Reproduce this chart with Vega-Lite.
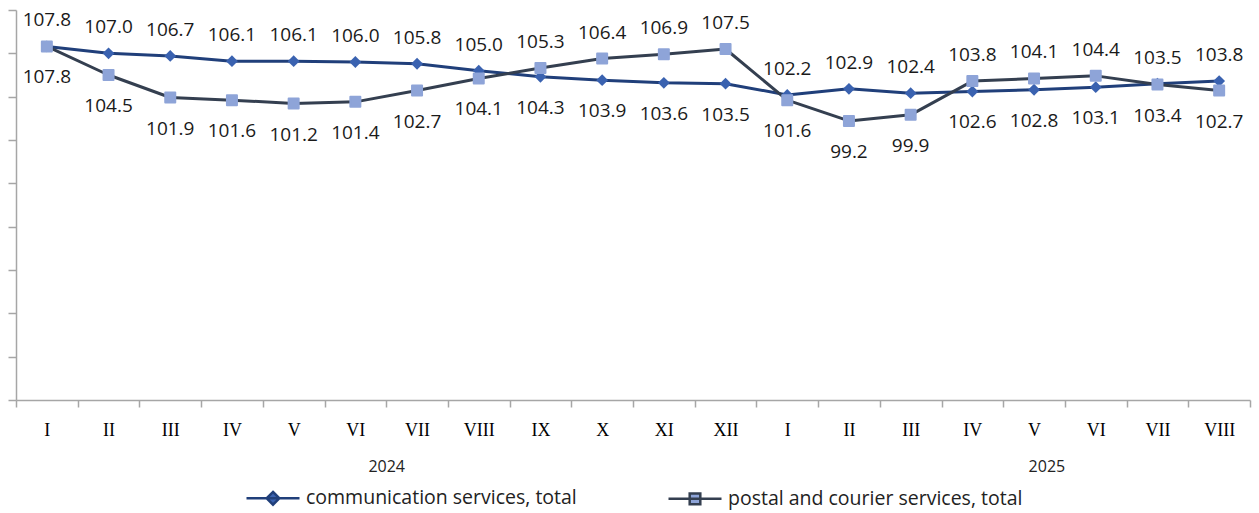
{
  "$schema": "https://vega.github.io/schema/vega-lite/v6.json",
  "width": 1234,
  "height": 390,
  "autosize": {"type": "none"},
  "padding": {"left": 16, "top": 10, "right": 9, "bottom": 113},
  "background": "white",
  "config": {"view": {"stroke": null}, "font": "Open Sans"},
  "data": {
    "values": [
      {"period": "2024-I", "n": 1, "series": "communication services, total", "value": 107.8},
      {"period": "2024-II", "n": 2, "series": "communication services, total", "value": 107.0},
      {"period": "2024-III", "n": 3, "series": "communication services, total", "value": 106.7},
      {"period": "2024-IV", "n": 4, "series": "communication services, total", "value": 106.1},
      {"period": "2024-V", "n": 5, "series": "communication services, total", "value": 106.1},
      {"period": "2024-VI", "n": 6, "series": "communication services, total", "value": 106.0},
      {"period": "2024-VII", "n": 7, "series": "communication services, total", "value": 105.8},
      {"period": "2024-VIII", "n": 8, "series": "communication services, total", "value": 105.0},
      {"period": "2024-IX", "n": 9, "series": "communication services, total", "value": 104.3},
      {"period": "2024-X", "n": 10, "series": "communication services, total", "value": 103.9},
      {"period": "2024-XI", "n": 11, "series": "communication services, total", "value": 103.6},
      {"period": "2024-XII", "n": 12, "series": "communication services, total", "value": 103.5},
      {"period": "2025-I", "n": 13, "series": "communication services, total", "value": 102.2},
      {"period": "2025-II", "n": 14, "series": "communication services, total", "value": 102.9},
      {"period": "2025-III", "n": 15, "series": "communication services, total", "value": 102.4},
      {"period": "2025-IV", "n": 16, "series": "communication services, total", "value": 102.6},
      {"period": "2025-V", "n": 17, "series": "communication services, total", "value": 102.8},
      {"period": "2025-VI", "n": 18, "series": "communication services, total", "value": 103.1},
      {"period": "2025-VII", "n": 19, "series": "communication services, total", "value": 103.5},
      {"period": "2025-VIII", "n": 20, "series": "communication services, total", "value": 103.8},
      {"period": "2024-I", "n": 1, "series": "postal and courier services, total", "value": 107.8},
      {"period": "2024-II", "n": 2, "series": "postal and courier services, total", "value": 104.5},
      {"period": "2024-III", "n": 3, "series": "postal and courier services, total", "value": 101.9},
      {"period": "2024-IV", "n": 4, "series": "postal and courier services, total", "value": 101.6},
      {"period": "2024-V", "n": 5, "series": "postal and courier services, total", "value": 101.2},
      {"period": "2024-VI", "n": 6, "series": "postal and courier services, total", "value": 101.4},
      {"period": "2024-VII", "n": 7, "series": "postal and courier services, total", "value": 102.7},
      {"period": "2024-VIII", "n": 8, "series": "postal and courier services, total", "value": 104.1},
      {"period": "2024-IX", "n": 9, "series": "postal and courier services, total", "value": 105.3},
      {"period": "2024-X", "n": 10, "series": "postal and courier services, total", "value": 106.4},
      {"period": "2024-XI", "n": 11, "series": "postal and courier services, total", "value": 106.9},
      {"period": "2024-XII", "n": 12, "series": "postal and courier services, total", "value": 107.5},
      {"period": "2025-I", "n": 13, "series": "postal and courier services, total", "value": 101.6},
      {"period": "2025-II", "n": 14, "series": "postal and courier services, total", "value": 99.2},
      {"period": "2025-III", "n": 15, "series": "postal and courier services, total", "value": 99.9},
      {"period": "2025-IV", "n": 16, "series": "postal and courier services, total", "value": 103.8},
      {"period": "2025-V", "n": 17, "series": "postal and courier services, total", "value": 104.1},
      {"period": "2025-VI", "n": 18, "series": "postal and courier services, total", "value": 104.4},
      {"period": "2025-VII", "n": 19, "series": "postal and courier services, total", "value": 103.4},
      {"period": "2025-VIII", "n": 20, "series": "postal and courier services, total", "value": 102.7}
    ]
  },
  "layer": [
    {
      "encoding": {
        "x": {
          "field": "period",
          "type": "ordinal",
          "sort": null,
          "scale": {"type": "band", "paddingInner": 0, "paddingOuter": 0},
          "axis": {
            "title": null,
            "tickBand": "extent",
            "labelExpr": "split(datum.label, '-')[1]",
            "labelFont": "Liberation Serif",
            "labelFontSize": 18,
            "labelColor": "#000000",
            "labelAngle": 0,
            "labelPadding": 14,
            "domainColor": "#A6A6A6",
            "tickColor": "#A6A6A6",
            "domainWidth": 1.5,
            "tickWidth": 1.5,
            "tickSize": 7,
            "grid": false
          }
        },
        "y": {
          "field": "value",
          "type": "quantitative",
          "scale": {"domain": [67, 112], "zero": false, "nice": false},
          "axis": {
            "title": null,
            "labels": false,
            "grid": false,
            "values": [67, 72, 77, 82, 87, 92, 97, 102, 107, 112],
            "domainColor": "#A6A6A6",
            "tickColor": "#A6A6A6",
            "domainWidth": 1.5,
            "tickWidth": 1.5,
            "tickSize": 8
          }
        }
      },
      "layer": [
        {
          "mark": {"type": "line", "strokeWidth": 3, "strokeJoin": "round"},
          "encoding": {
            "color": {
              "field": "series",
              "type": "nominal",
              "scale": {
                "domain": ["communication services, total", "postal and courier services, total"],
                "range": ["#203F7A", "#343F50"]
              },
              "legend": {
                "orient": "none",
                "legendX": 229,
                "legendY": 460,
                "direction": "horizontal",
                "title": null,
                "padding": 0,
                "labelFont": "Open Sans",
                "labelFontSize": 19.5,
                "labelColor": "#222222",
                "labelLimit": 500,
                "labelOffset": 5,
                "columnPadding": 86,
                "symbolSize": 2809,
                "symbolStrokeWidth": 3,
                "encode": {
                  "symbols": {
                    "update": {
                      "shape": {"signal": "datum.value === 'communication services, total' ? 'M-1,0H1M0,-0.24L0.24,0L0,0.24L-0.24,0Z' : 'M-1,0H1M-0.2,-0.2H0.2V0.2H-0.2Z'"},
                      "fill": {"signal": "datum.value === 'communication services, total' ? '#3A62B0' : '#8EA4D8'"},
                      "stroke": {"signal": "datum.value === 'communication services, total' ? '#203F7A' : '#343F50'"},
                      "strokeWidth": {"value": 2.5}
                    }
                  }
                }
              }
            }
          }
        },
        {
          "transform": [{"filter": "datum.series === 'communication services, total'"}],
          "mark": {"type": "point", "shape": "diamond", "filled": true, "color": "#3A62B0", "size": 140, "opacity": 1}
        },
        {
          "transform": [{"filter": "datum.series === 'postal and courier services, total'"}],
          "mark": {"type": "square", "color": "#8EA4D8", "size": 100, "opacity": 1, "stroke": "#8EA4D8", "strokeWidth": 2, "strokeJoin": "round"}
        },
        {
          "transform": [
            {"window": [{"op": "row_number", "as": "rank"}], "groupby": ["period"], "sort": [{"field": "value", "order": "descending"}]},
            {"filter": "datum.rank === 1"}
          ],
          "mark": {"type": "text", "dy": -26, "font": "Open Sans", "fontSize": 19, "color": "#1A1A1A"},
          "encoding": {"text": {"field": "value", "type": "quantitative", "format": ".1f"}}
        },
        {
          "transform": [
            {"window": [{"op": "row_number", "as": "rank"}], "groupby": ["period"], "sort": [{"field": "value", "order": "descending"}]},
            {"filter": "datum.rank === 2"}
          ],
          "mark": {"type": "text", "dy": 31, "font": "Open Sans", "fontSize": 19, "color": "#1A1A1A"},
          "encoding": {"text": {"field": "value", "type": "quantitative", "format": ".1f"}}
        }
      ]
    },
    {
      "mark": {"type": "point", "opacity": 0},
      "encoding": {
        "x": {
          "field": "n",
          "type": "quantitative",
          "scale": {"domain": [0.5, 20.5], "nice": false, "zero": false},
          "axis": {
            "orient": "bottom",
            "values": [6.5, 17.2],
            "labelExpr": "datum.value < 10 ? '2024' : '2025'",
            "domain": false,
            "ticks": false,
            "grid": false,
            "title": null,
            "labelFont": "Open Sans",
            "labelFontSize": 16,
            "labelColor": "#222222",
            "labelPadding": 58
          }
        }
      }
    }
  ],
  "resolve": {"scale": {"x": "independent"}, "axis": {"x": "independent"}}
}
